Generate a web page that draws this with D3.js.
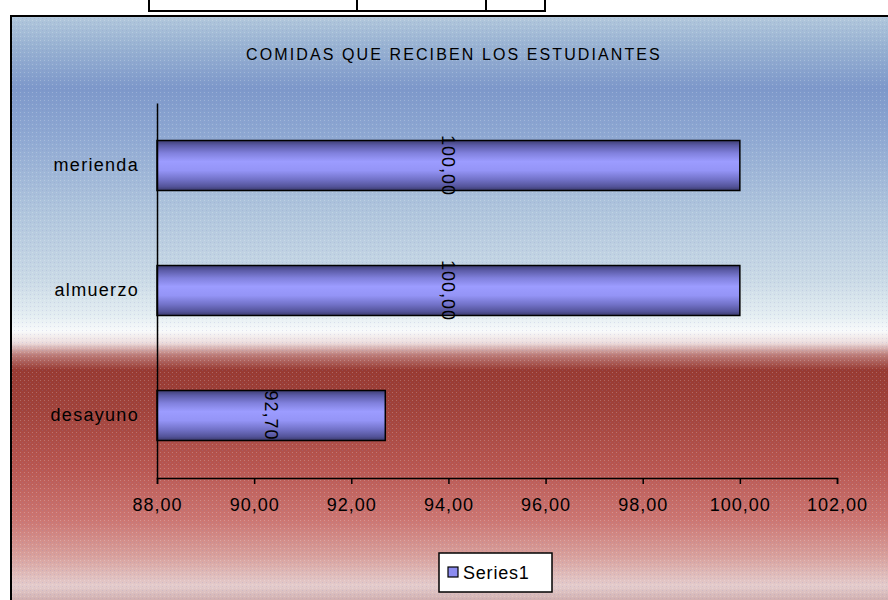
<!DOCTYPE html>
<html>
<head>
<meta charset="utf-8">
<script src="https://cdn.jsdelivr.net/npm/d3@7"></script>
<style>
  html, body { margin: 0; padding: 0; background: #ffffff; }
  svg { display: block; }
  text { font-family: "Liberation Sans", Arial, sans-serif; fill: #000; }
</style>
</head>
<body>
<svg id="chart" width="888" height="600"></svg>
<script>
// Meals received by students (%)
const categories = ["merienda", "almuerzo", "desayuno"];
const values = [100.00, 100.00, 92.70];
const tickValues = [88, 90, 92, 94, 96, 98, 100, 102];
const seriesName = "Series1";
const title = "COMIDAS QUE RECIBEN LOS ESTUDIANTES";

const fmt = v => d3.format(".2f")(v).replace(".", ",");

const svg = d3.select("#chart");
const defs = svg.append("defs");

// Background gradient of the chart area: blue sky fading to white, then red
const bg = defs.append("linearGradient").attr("id", "bgGrad")
  .attr("x1", 0).attr("y1", 0).attr("x2", 0).attr("y2", 1);
[
  [0.00, "#b2c8dc"], [0.05, "#98b2d2"], [0.12, "#7d98ca"], [0.20, "#8ea8d2"],
  [0.32, "#aec4dc"], [0.44, "#cadae6"], [0.50, "#e4eef2"], [0.525, "#f8fafb"],
  [0.545, "#ecdcdc"], [0.565, "#bc7c78"], [0.59, "#983a32"], [0.65, "#a0423a"],
  [0.75, "#b85650"], [0.84, "#cc7672"], [0.90, "#d8a09c"], [0.95, "#e4cccc"],
  [0.98, "#cca8a8"], [1.00, "#b88c8c"]
].forEach(([o, c]) => bg.append("stop").attr("offset", o).attr("stop-color", c));

// Fine dither texture laid over the background
const pat = defs.append("pattern").attr("id", "dither")
  .attr("width", 4).attr("height", 4).attr("patternUnits", "userSpaceOnUse");
pat.append("rect").attr("x", 0).attr("y", 0).attr("width", 1).attr("height", 1)
  .attr("fill", "#ffffff").attr("opacity", 0.22);
pat.append("rect").attr("x", 2).attr("y", 2).attr("width", 1).attr("height", 1)
  .attr("fill", "#8080c0").attr("opacity", 0.18);

// Cylinder-like shading of the bars
const barGrad = defs.append("linearGradient").attr("id", "barGrad")
  .attr("x1", 0).attr("y1", 0).attr("x2", 0).attr("y2", 1);
[
  [0.00, "#3e3e74"], [0.10, "#5c5ca8"], [0.25, "#8080dc"], [0.42, "#9c9cff"],
  [0.60, "#9494f6"], [0.78, "#7272c8"], [0.92, "#54549a"], [1.00, "#3a3a6c"]
].forEach(([o, c]) => barGrad.append("stop").attr("offset", o).attr("stop-color", c));

// Fragment of the table above the chart
const tbl = svg.append("g").attr("stroke", "#000").attr("stroke-width", 2).attr("fill", "none");
tbl.append("path").attr("d", "M149,-2 V11 H545 V-2");
[357, 486].forEach(x => tbl.append("line").attr("x1", x).attr("x2", x).attr("y1", -2).attr("y2", 11));

// Chart area
const area = { x: 11, y: 16, w: 890, h: 600 };
svg.append("rect").attr("x", area.x).attr("y", area.y).attr("width", area.w).attr("height", area.h)
  .attr("fill", "url(#bgGrad)");
svg.append("rect").attr("x", area.x).attr("y", area.y).attr("width", area.w).attr("height", area.h)
  .attr("fill", "url(#dither)");
svg.append("rect").attr("x", area.x).attr("y", area.y).attr("width", area.w).attr("height", area.h)
  .attr("fill", "none").attr("stroke", "#000").attr("stroke-width", 2);

// Title
svg.append("text").attr("x", 454).attr("y", 60).attr("text-anchor", "middle")
  .style("font-size", "16px").style("letter-spacing", "2.1px").text(title);

// Scales
const x = d3.scaleLinear().domain([88, 102]).range([157, 837]);
const y = d3.scaleBand().domain(categories).range([103, 478])
  .paddingInner(0.6).paddingOuter(0.3);

// Bars
svg.append("g").selectAll("rect").data(categories).join("rect")
  .attr("x", x(88))
  .attr("y", d => y(d))
  .attr("width", (d, i) => x(values[i]) - x(88))
  .attr("height", y.bandwidth())
  .attr("fill", "url(#barGrad)")
  .attr("stroke", "#000").attr("stroke-width", 1.5);

// Value labels, rotated, centred on each bar
svg.append("g").selectAll("text").data(categories).join("text")
  .attr("transform", (d, i) => {
    const cx = (x(88) + x(values[i])) / 2;
    const cy = y(d) + y.bandwidth() / 2;
    return `translate(${cx},${cy}) rotate(90)`;
  })
  .attr("text-anchor", "middle").attr("dy", "0.35em")
  .style("font-size", "18px").style("letter-spacing", "1px")
  .text((d, i) => fmt(values[i]));

// X axis
const xAxis = svg.append("g").attr("transform", "translate(0,478)")
  .call(d3.axisBottom(x).tickValues(tickValues).tickFormat(fmt).tickSize(6).tickPadding(14));
xAxis.select(".domain").attr("stroke", "#000").attr("stroke-width", 1.5);
xAxis.selectAll(".tick line").attr("stroke", "#000").attr("stroke-width", 1.5);
xAxis.selectAll(".tick text").style("font-size", "18px").style("letter-spacing", "1px")
  .style("font-family", "Liberation Sans, Arial, sans-serif").attr("fill", "#000");

// Y axis
const yAxis = svg.append("g").attr("transform", "translate(157,0)")
  .call(d3.axisLeft(y).tickSize(0).tickPadding(18));
yAxis.select(".domain").attr("stroke", "#000").attr("stroke-width", 1.5);
yAxis.selectAll(".tick text").style("font-size", "18px").style("letter-spacing", "1.3px")
  .style("font-family", "Liberation Sans, Arial, sans-serif").attr("fill", "#000");

// Legend
const lg = svg.append("g").attr("transform", "translate(439,553)");
lg.append("rect").attr("width", 113).attr("height", 39)
  .attr("fill", "#fff").attr("stroke", "#000").attr("stroke-width", 1.5);
lg.append("rect").attr("x", 9).attr("y", 14).attr("width", 10).attr("height", 10)
  .attr("fill", "#8c8cf0").attr("stroke", "#000").attr("stroke-width", 1.2);
lg.append("text").attr("x", 24).attr("y", 26)
  .style("font-size", "18px").style("letter-spacing", "0.8px").text(seriesName);
</script>
</body>
</html>
